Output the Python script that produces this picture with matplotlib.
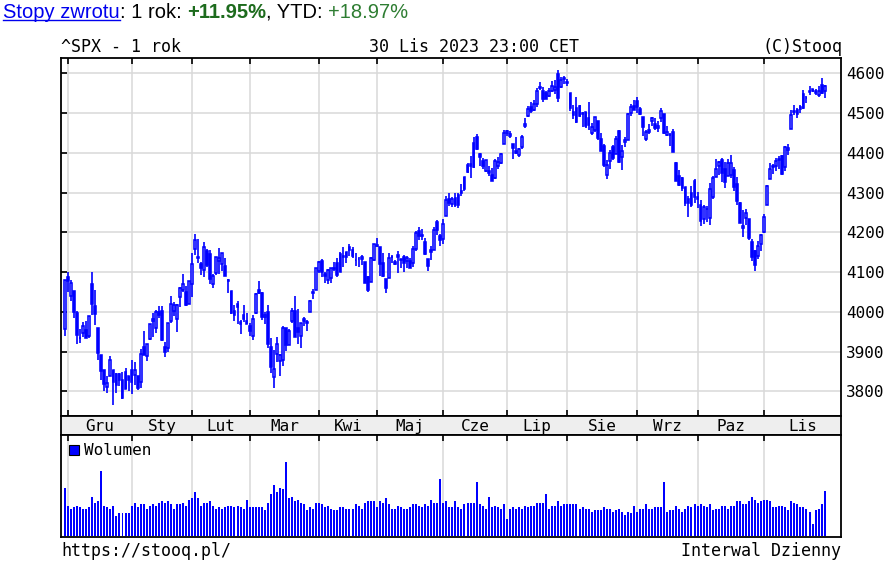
import numpy as np
import pandas as pd
import matplotlib
matplotlib.use("Agg")
import matplotlib.pyplot as plt
from matplotlib.patches import Rectangle
from matplotlib.lines import Line2D

W, H = 892, 561
BLUE = "#0000ff"
GRID = "#d9d9d9"
MONO = "DejaVu Sans Mono"
SANS = "Liberation Sans"

# ^SPX, sesje 30.11.2022 - 30.11.2023
holidays = ["2022-12-26", "2023-01-02", "2023-01-16", "2023-02-20", "2023-04-07",
            "2023-05-29", "2023-06-19", "2023-07-04", "2023-09-04", "2023-11-23"]
sessions = pd.bdate_range("2022-11-30", "2023-11-30")
sessions = sessions[~sessions.isin(pd.to_datetime(holidays))]

month_names = ["Gru", "Sty", "Lut", "Mar", "Kwi", "Maj", "Cze", "Lip", "Sie", "Wrz", "Paz", "Lis"]
price_levels = [3800, 3900, 4000, 4100, 4200, 4300, 4400, 4500, 4600]

opens = [3957.18,
    # gru
    4087.14, 4040.17, 4052.02, 3996.63, 3933.28, 3947.79, 3954.17, 3939.29, 4069.38, 4015.54, 3958.37,
    3890.91, 3853.79, 3810.47, 3839.49, 3853.26, 3815.11, 3843.34, 3829.56, 3805.45, 3829.06,
    # sty
    3853.29, 3840.36, 3839.74, 3823.37, 3910.82, 3888.57, 3932.35, 3977.57, 3960.60, 3999.28,
    4002.25, 3911.84, 3909.04, 3978.14, 4001.74, 3982.71, 4036.08, 4053.72, 4049.27, 4020.85,
    # lut
    4070.07, 4158.68, 4136.69, 4119.57, 4105.35, 4153.47, 4144.25, 4068.92, 4096.62, 4126.70,
    4119.50, 4114.75, 4077.39, 4052.35, 4001.83, 4018.60, 3973.24, 3992.36, 3977.19,
    # mar
    3963.34, 3938.68, 3998.02, 4055.15, 4048.26, 3987.55, 3998.66, 3912.77, 3835.12, 3894.01, 3876.74,
    3878.93, 3958.61, 3917.47, 3975.89, 4002.04, 3959.21, 3939.21, 3982.93, 3974.13, 3999.53, 4046.74, 4056.18,
    # kwi
    4102.20, 4128.03, 4094.50, 4081.15, 4085.20, 4110.29, 4121.72, 4100.04, 4140.11, 4137.17,
    4164.26, 4139.33, 4130.48, 4132.14, 4132.07, 4126.43, 4087.78, 4075.29, 4129.63,
    # maj
    4166.79, 4164.10, 4122.25, 4082.61, 4084.73, 4136.98, 4124.25, 4143.74, 4132.24, 4138.54, 4126.65,
    4127.95, 4122.85, 4157.68, 4204.15, 4190.78, 4176.80, 4132.96, 4155.71, 4156.16, 4226.71, 4190.74,
    # cze
    4183.03, 4241.01, 4282.99, 4271.34, 4285.47, 4268.69, 4304.88, 4308.32, 4352.61, 4366.29, 4365.33,
    4440.95, 4396.11, 4380.01, 4355.40, 4354.17, 4344.84, 4337.36, 4367.48, 4374.94, 4422.44,
    # lip
    4450.48, 4442.04, 4422.62, 4404.54, 4394.46, 4415.55, 4467.69, 4491.50, 4514.61, 4508.86,
    4521.78, 4563.87, 4554.38, 4550.16, 4543.39, 4555.19, 4558.96, 4598.26, 4565.75, 4584.82,
    # sie
    4578.83, 4550.93, 4494.27, 4513.96, 4491.58, 4498.03, 4501.57, 4487.16, 4450.69, 4458.13, 4478.87, 4433.79,
    4416.32, 4344.88, 4380.28, 4415.33, 4396.44, 4455.16, 4389.38, 4426.03, 4432.75, 4500.34, 4517.01,
    # wrz
    4530.60, 4510.06, 4490.35, 4434.55, 4451.30, 4480.98, 4473.27, 4462.65, 4487.78, 4497.98,
    4445.13, 4445.41, 4452.81, 4374.36, 4341.74, 4310.62, 4312.88, 4282.63, 4269.65, 4328.18,
    # paz
    4284.52, 4269.75, 4233.83, 4259.31, 4234.79, 4289.02, 4339.75, 4366.59, 4380.94, 4360.49, 4342.37,
    4345.23, 4357.35, 4321.36, 4273.85, 4210.40, 4235.79, 4232.42, 4175.99, 4152.93, 4139.39, 4171.33,
    # lis
    4201.27, 4268.26, 4334.23, 4364.27, 4366.21, 4384.37, 4391.41, 4364.15, 4406.66, 4458.97, 4505.30,
    4497.08, 4509.55, 4511.70, 4538.77, 4553.04, 4555.84, 4554.86, 4545.55, 4571.84, 4554.87]

highs = [4080.11,
    4100.51, 4080.48, 4052.45, 4001.51, 3957.57, 3974.19, 3977.02, 3990.71, 4100.96, 4053.76, 3958.37,
    3890.91, 3854.86, 3838.24, 3889.82, 3853.26, 3845.80, 3846.65, 3848.32, 3858.19, 3839.85,
    3878.46, 3873.16, 3839.74, 3906.19, 3950.57, 3919.83, 3970.07, 3997.76, 4003.95, 4015.39,
    4014.16, 3922.94, 3972.96, 4039.31, 4023.92, 4019.55, 4061.57, 4094.21, 4063.85, 4077.16,
    4148.95, 4195.44, 4182.36, 4124.63, 4176.54, 4156.85, 4156.23, 4094.36, 4138.90, 4159.77,
    4148.11, 4136.54, 4081.51, 4052.35, 4017.37, 4028.30, 3978.25, 4018.05, 3997.50,
    3971.73, 3990.84, 4048.29, 4078.49, 4050.00, 4000.41, 4017.81, 3934.05, 3905.05, 3937.29, 3894.26,
    3964.46, 3958.91, 3956.62, 4009.08, 4039.49, 4007.66, 3972.74, 3988.19, 3979.20, 4030.59, 4057.85, 4110.75,
    4127.66, 4133.13, 4099.69, 4107.32, 4109.50, 4124.26, 4134.37, 4150.26, 4163.19, 4151.72,
    4169.48, 4162.57, 4148.57, 4138.02, 4142.41, 4126.43, 4089.67, 4138.24, 4170.06,
    4186.92, 4164.10, 4148.30, 4082.61, 4147.02, 4142.30, 4130.35, 4154.28, 4132.80, 4143.74, 4141.25,
    4135.54, 4164.67, 4202.20, 4212.91, 4209.22, 4185.68, 4132.96, 4165.74, 4212.87, 4231.10, 4195.44,
    4232.43, 4290.67, 4299.28, 4288.33, 4299.19, 4298.01, 4322.62, 4340.13, 4375.37, 4391.82, 4439.20,
    4448.47, 4400.15, 4386.22, 4382.25, 4366.55, 4362.06, 4384.42, 4390.35, 4398.39, 4458.48,
    4456.46, 4454.06, 4422.62, 4440.39, 4412.60, 4443.64, 4488.34, 4517.38, 4527.76, 4532.85,
    4562.30, 4578.43, 4564.74, 4555.00, 4563.41, 4580.62, 4582.47, 4607.07, 4590.16, 4594.22,
    4584.62, 4550.93, 4519.49, 4540.34, 4519.84, 4503.31, 4502.44, 4527.37, 4476.23, 4490.33, 4478.87, 4449.95,
    4421.17, 4381.82, 4407.55, 4418.59, 4443.18, 4458.30, 4418.46, 4439.56, 4500.14, 4521.65, 4532.26,
    4541.25, 4514.29, 4490.35, 4457.81, 4473.53, 4490.77, 4487.11, 4479.39, 4511.99, 4497.98,
    4466.36, 4449.85, 4461.03, 4375.70, 4357.40, 4338.51, 4313.01, 4292.07, 4317.27, 4333.15,
    4300.58, 4281.15, 4268.50, 4267.13, 4324.10, 4341.73, 4385.46, 4378.64, 4385.85, 4377.10, 4383.33,
    4393.57, 4364.20, 4339.54, 4276.56, 4255.84, 4259.38, 4232.42, 4183.60, 4156.70, 4177.47, 4195.55,
    4245.64, 4319.72, 4373.62, 4372.21, 4386.26, 4391.20, 4393.40, 4418.03, 4421.76, 4508.67, 4521.17,
    4511.99, 4520.12, 4557.11, 4542.14, 4568.43, 4560.31, 4560.52, 4568.14, 4587.64, 4569.89]

lows = [3938.58,
    4050.87, 4026.63, 3984.49, 3918.39, 3922.68, 3935.83, 3933.04, 3935.30, 3993.03, 3965.65, 3879.45,
    3827.91, 3800.04, 3795.62, 3839.49, 3764.49, 3797.01, 3813.22, 3780.78, 3805.45, 3800.34,
    3794.33, 3815.77, 3802.42, 3809.56, 3890.42, 3877.29, 3928.54, 3937.56, 3947.67, 3984.57,
    3926.59, 3885.54, 3897.86, 3971.64, 3989.79, 3949.06, 4013.29, 4048.70, 4015.55, 4020.44,
    4037.20, 4141.88, 4123.36, 4093.38, 4088.39, 4111.67, 4069.67, 4060.79, 4092.67, 4095.01,
    4103.98, 4089.49, 4047.95, 3995.19, 3976.90, 3969.19, 3943.08, 3973.55, 3968.98,
    3939.05, 3928.16, 3995.17, 4044.61, 3980.31, 3969.76, 3908.70, 3846.32, 3808.86, 3873.63, 3838.24,
    3864.11, 3901.27, 3916.89, 3971.19, 3936.17, 3919.05, 3909.16, 3963.16, 3951.53, 3999.53, 4032.10, 4056.18,
    4098.79, 4086.87, 4072.56, 4069.84, 4072.55, 4102.61, 4086.94, 4099.40, 4113.20, 4123.18,
    4140.36, 4134.49, 4114.57, 4113.86, 4117.77, 4071.38, 4049.35, 4075.29, 4127.18,
    4164.12, 4089.72, 4088.86, 4048.28, 4084.73, 4123.81, 4116.65, 4098.92, 4109.29, 4099.12, 4110.27,
    4109.86, 4113.62, 4153.50, 4180.20, 4179.68, 4142.54, 4103.98, 4129.73, 4156.16, 4192.18, 4166.15,
    4171.64, 4241.01, 4266.82, 4263.09, 4263.96, 4261.07, 4291.70, 4304.37, 4349.31, 4337.85, 4362.60,
    4407.44, 4367.19, 4360.14, 4351.82, 4341.34, 4328.08, 4335.00, 4360.22, 4371.97, 4422.44,
    4442.29, 4436.61, 4385.05, 4397.40, 4389.92, 4408.46, 4463.23, 4489.36, 4499.56, 4504.90,
    4514.59, 4557.48, 4527.56, 4535.79, 4541.29, 4552.42, 4547.58, 4528.56, 4564.01, 4573.14,
    4567.53, 4505.75, 4485.54, 4474.55, 4491.15, 4464.39, 4461.33, 4457.92, 4443.98, 4453.44, 4432.19, 4403.55,
    4364.83, 4335.31, 4360.30, 4382.77, 4396.44, 4375.55, 4356.29, 4414.98, 4431.68, 4493.59, 4507.39,
    4501.35, 4496.01, 4442.38, 4430.46, 4448.38, 4467.89, 4456.83, 4453.52, 4478.69, 4447.21,
    4442.11, 4416.61, 4401.38, 4329.17, 4316.49, 4302.70, 4265.98, 4238.63, 4264.38, 4274.86,
    4260.21, 4216.45, 4220.48, 4225.91, 4219.55, 4283.79, 4339.64, 4345.34, 4325.43, 4311.97, 4342.37,
    4337.54, 4303.84, 4269.69, 4223.03, 4189.22, 4219.43, 4181.42, 4127.90, 4103.78, 4132.94, 4153.12,
    4197.74, 4268.26, 4334.23, 4347.53, 4355.41, 4359.76, 4343.94, 4353.34, 4393.82, 4458.97, 4495.31,
    4487.83, 4499.66, 4510.36, 4525.51, 4545.05, 4552.80, 4546.32, 4540.51, 4547.15, 4537.24]

closes = [4080.11,
    4076.57, 4071.70, 3998.84, 3941.26, 3933.92, 3963.51, 3934.38, 3990.56, 4019.65, 3995.32, 3895.75,
    3852.36, 3817.66, 3821.62, 3878.44, 3822.39, 3844.82, 3829.25, 3783.22, 3849.28, 3839.50,
    3824.14, 3852.97, 3808.10, 3895.08, 3892.09, 3919.25, 3969.61, 3983.17, 3999.09, 3990.97,
    3928.86, 3898.85, 3972.61, 4019.81, 4016.95, 4016.22, 4060.43, 4070.56, 4017.77, 4076.60,
    4119.21, 4179.76, 4136.48, 4111.08, 4164.00, 4117.86, 4081.50, 4090.46, 4137.29, 4136.13,
    4147.60, 4090.41, 4079.09, 3997.34, 3991.05, 4012.32, 3970.04, 3982.24, 3970.15,
    3951.39, 3981.35, 4045.64, 4048.42, 3986.37, 3992.01, 3918.32, 3861.59, 3855.76, 3919.29, 3891.93,
    3960.28, 3916.64, 3951.57, 4002.87, 3936.97, 3948.72, 3970.99, 3977.53, 3971.27, 4027.81, 4050.83, 4109.31,
    4124.51, 4100.60, 4090.38, 4105.02, 4109.11, 4108.94, 4091.95, 4146.22, 4137.64, 4151.32,
    4154.87, 4154.52, 4129.79, 4133.52, 4137.04, 4071.63, 4055.99, 4135.35, 4169.48,
    4167.87, 4119.58, 4090.75, 4061.22, 4136.25, 4138.12, 4119.17, 4137.64, 4130.62, 4124.08, 4136.28,
    4109.90, 4158.77, 4198.05, 4191.98, 4192.63, 4145.58, 4115.24, 4151.28, 4205.45, 4205.52, 4179.83,
    4221.02, 4282.37, 4273.79, 4283.85, 4267.52, 4293.93, 4298.86, 4338.93, 4369.01, 4372.59, 4425.84,
    4409.59, 4388.71, 4365.69, 4381.89, 4348.33, 4328.82, 4378.41, 4376.86, 4396.44, 4450.38,
    4455.59, 4446.82, 4411.59, 4398.95, 4409.53, 4439.26, 4472.16, 4510.04, 4505.42, 4522.79,
    4554.98, 4565.72, 4534.87, 4536.34, 4554.64, 4567.46, 4566.75, 4537.41, 4582.23, 4588.96,
    4576.73, 4513.39, 4501.89, 4478.03, 4518.44, 4499.38, 4467.71, 4468.83, 4464.05, 4489.72, 4437.86, 4404.33,
    4370.36, 4369.71, 4399.77, 4387.55, 4436.01, 4376.31, 4405.71, 4433.31, 4497.63, 4514.87, 4507.66,
    4515.77, 4496.83, 4465.48, 4451.14, 4457.49, 4487.46, 4461.90, 4467.44, 4505.10, 4450.32,
    4453.53, 4443.95, 4402.20, 4330.00, 4320.06, 4337.44, 4273.53, 4274.51, 4299.70, 4288.05,
    4288.39, 4229.45, 4263.75, 4258.19, 4308.50, 4335.66, 4358.24, 4376.95, 4349.61, 4327.78, 4373.63,
    4373.20, 4314.60, 4278.00, 4224.16, 4217.04, 4247.68, 4186.77, 4137.23, 4117.37, 4166.82, 4193.80,
    4237.86, 4317.78, 4358.34, 4365.98, 4378.38, 4382.78, 4347.35, 4415.24, 4411.55, 4495.70, 4502.88,
    4508.24, 4514.02, 4547.38, 4538.19, 4556.62, 4559.34, 4550.43, 4554.89, 4550.58, 4567.80]

# wolumen, mln (odczyt z wykresu)
volume = [3840,
    2400, 2160, 2290, 2400, 2290, 2160, 2160, 2290, 3120, 2640, 2770, 5200, 2400, 2290, 2160, 2400,
    1570, 1810, 1810, 1810, 1810,
    2400, 2640, 2290, 2530, 2530, 2160, 2400, 2530, 2400, 2640, 2770, 2640, 2770, 2530, 2160, 2530,
    2530, 2640, 2400, 2880,
    3010, 3490, 3010, 2400, 2640, 2640, 2770, 2400, 2160, 2290, 2160, 2290, 2400, 2400, 2290, 2400,
    2290, 2160, 2880,
    2290, 2290, 2290, 2290, 2290, 2050, 2640, 3360, 4080, 3490, 3840, 3730, 5890, 3010, 3120, 2770,
    2880, 2640, 2530, 2050, 2290, 2160, 2640,
    2640, 2530, 2290, 2400, 2160, 2050, 2050, 2290, 2290, 2160, 2160, 2160, 2530, 2400, 2160, 2640,
    2770, 2770, 2770,
    2290, 2770, 2640, 3010, 2530, 2160, 2160, 2400, 2290, 2160, 2160, 2290, 2530, 2530, 2400, 2290,
    2530, 2400, 2880, 2640, 2640, 4560,
    2640, 2770, 2290, 2290, 2770, 2290, 2160, 2530, 2640, 2640, 2640, 4320, 2530, 2400, 2160, 3120,
    2290, 2400, 2290, 2160, 2530,
    1330, 2160, 2290, 2160, 2290, 2160, 2400, 2290, 2400, 2400, 2640, 2640, 2640, 3360, 2160, 2400,
    2400, 2770, 2400, 2530,
    2530, 2530, 2530, 2530, 2160, 2290, 2160, 2160, 1920, 2050, 2050, 2050, 2290, 2160, 2160, 1920,
    2050, 2160, 1920, 1680, 1920, 1810, 2400,
    1920, 2160, 2160, 2530, 2160, 2160, 2290, 2290, 2290, 4320, 1920, 2050, 2050, 2400, 2160, 1920,
    2160, 2400, 2290, 2530,
    2400, 2530, 2400, 2290, 2530, 2050, 2160, 2160, 2400, 2400, 2160, 2400, 2400, 2770, 2770, 2530,
    2530, 2770, 3120, 2880, 2640, 2770,
    2880, 2880, 2770, 2290, 2290, 2400, 2400, 2290, 2050, 2770, 2640, 2530, 2290, 2290, 2160, 1920,
    960, 2050, 2160, 2530, 3600]

o = np.array(opens)
hi = np.array(highs)
lo = np.array(lows)
c = np.array(closes)
n = len(c)
x = np.arange(n)

plt.rcParams["font.family"] = MONO

fig = plt.figure(figsize=(W / 100, H / 100), dpi=100)


def box(left, top, right, bottom):
    return [left / W, 1 - bottom / H, (right - left) / W, (bottom - top) / H]


ax = fig.add_axes(box(61, 58, 841, 416))
band = fig.add_axes(box(61, 416, 841, 435))
axv = fig.add_axes(box(61, 435, 841, 537))

xlim = (-1.32, 256.4)
month_start = [i for i in range(1, n) if sessions[i].month != sessions[i - 1].month]

for a in (ax, band, axv):
    a.set_xlim(*xlim)
    for s in a.spines.values():
        s.set_linewidth(1.3)
        s.set_color("black")

# --- cena ---
ax.set_ylim(3738, 4638.5)
ax.set_xticks(month_start)
ax.set_yticks(price_levels)
ax.grid(True, color=GRID, linewidth=1.1)
ax.set_axisbelow(True)
ax.tick_params(axis="x", direction="in", top=True, bottom=True, labelbottom=False,
               length=4, width=1.2)
ax.tick_params(axis="y", direction="in", left=True, right=False, labelleft=False,
               labelright=True, length=4, width=1.2, pad=3.6, labelsize=11.5)

up = c >= o
ax.vlines(x, lo, hi, color=BLUE, linewidth=1.2, zorder=2)
ax.bar(x[up], (c - o)[up], bottom=o[up], width=0.6, facecolor="white",
       edgecolor=BLUE, linewidth=1.15, zorder=3)
ax.bar(x[~up], (o - c)[~up], bottom=c[~up], width=0.6, facecolor=BLUE,
       edgecolor=BLUE, linewidth=1.15, zorder=3)

# --- pasek z miesiacami ---
band.set_facecolor("#eeeeee")
band.set_xticks([])
band.set_yticks([])
band.set_ylim(0, 1)
edges = month_start + [xlim[1]]
for name, a0, a1 in zip(month_names, edges[:-1], edges[1:]):
    band.text((a0 + a1) / 2, 0.45, name, ha="center", va="center", fontsize=11.5)

# --- wolumen ---
axv.bar(x, volume, width=0.66, color=BLUE, linewidth=0, antialiased=False)
axv.set_ylim(-80, 8080)
axv.set_xticks(month_start)
axv.set_yticks([])
axv.grid(True, axis="x", color=GRID, linewidth=1.1)
axv.set_axisbelow(True)
axv.tick_params(axis="x", direction="in", top=True, bottom=False, labelbottom=False,
                length=4, width=1.2)
fig.patches.append(Rectangle((69 / W, 1 - 455 / H), 10 / W, 10 / H, transform=fig.transFigure,
                             facecolor=BLUE, edgecolor="black", linewidth=0.8))
fig.text(84 / W, 1 - 455 / H, "Wolumen", fontsize=11.5, va="baseline")

# --- napisy ---
fig.text(61 / W, 1 - 52 / H, "^SPX - 1 rok", fontsize=12, va="baseline")
fig.text(369 / W, 1 - 52 / H, "30 Lis 2023 23:00 CET", fontsize=12, va="baseline")
fig.text(842 / W, 1 - 52 / H, "(C)Stooq", fontsize=12, va="baseline", ha="right")
fig.text(61 / W, 1 - 556 / H, "https://stooq.pl/", fontsize=12, va="baseline")
fig.text(841 / W, 1 - 556 / H, "Interwal Dzienny", fontsize=12, va="baseline", ha="right")

renderer = fig.canvas.get_renderer()
parts = [("Stopy zwrotu", "#0000ee", "normal"), (": 1 rok: ", "black", "normal"),
         ("+11.95%", "#1d6b1d", "bold"), (", YTD: ", "black", "normal"),
         ("+18.97%", "#2e7d32", "normal")]
px = 3
base = 18
for i, (txt, col, wt) in enumerate(parts):
    t = fig.text(px / W, 1 - base / H, txt, color=col, fontweight=wt, family=SANS,
                 fontsize=14.5, va="baseline")
    bb = t.get_window_extent(renderer)
    if i == 0:
        fig.lines.append(Line2D([px / W, (px + bb.width) / W], [1 - (base + 2) / H] * 2,
                                transform=fig.transFigure, color=col, linewidth=1.0))
    px += bb.width

fig.savefig("out.png", dpi=100)
